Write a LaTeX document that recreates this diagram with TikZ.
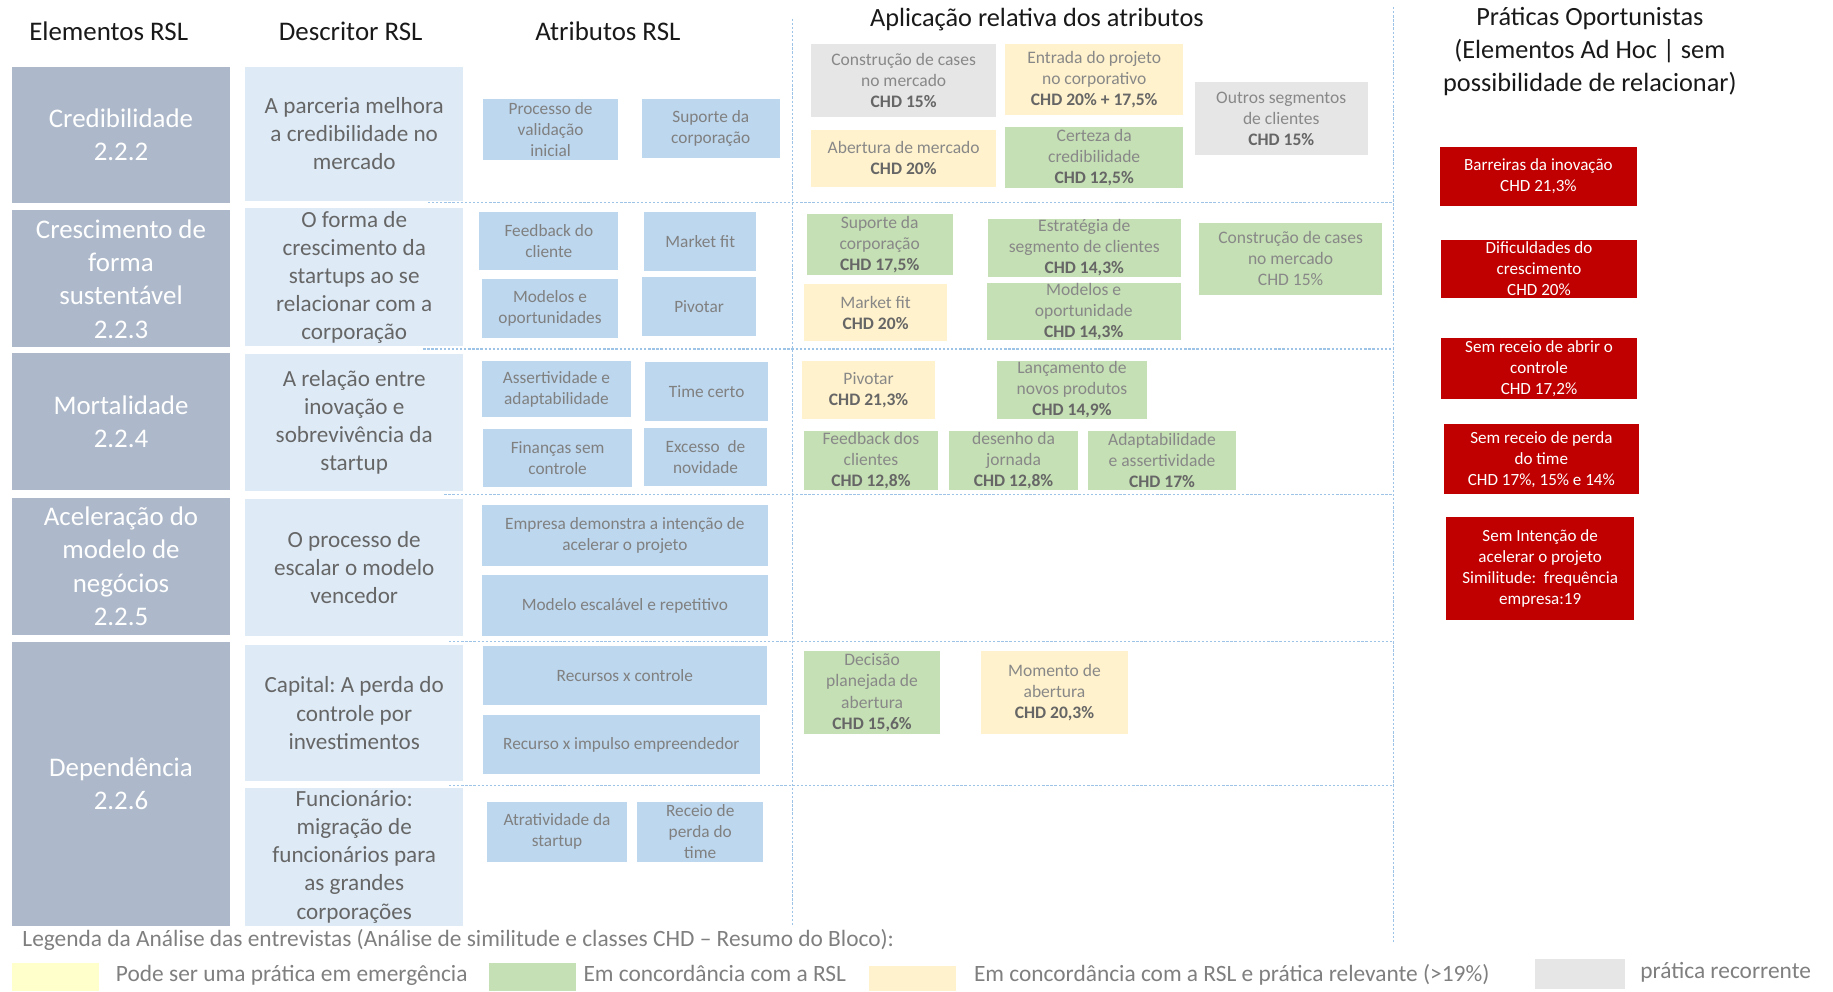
\documentclass[tikz,border=0pt]{standalone}
\usepackage{fontspec}
\setmainfont{Carlito}
\frenchspacing
\usetikzlibrary{positioning}
\definecolor{elemfill}{HTML}{ADB9CA}
\definecolor{descfill}{HTML}{DEEBF7}
\definecolor{atribfill}{HTML}{BDD7EE}
\definecolor{verdefill}{HTML}{C5E0B4}
\definecolor{amarfill}{HTML}{FFF2CC}
\definecolor{cinzafill}{HTML}{E6E6E6}
\definecolor{oportfill}{HTML}{C00000}
\definecolor{legamar}{HTML}{FFFFCC}
\definecolor{linha}{HTML}{9DC3E6}
\definecolor{desctxt}{HTML}{666666}
\definecolor{atribtxt}{HTML}{808080}
\definecolor{apltxt}{HTML}{888888}
\definecolor{chdtxt}{HTML}{666666}
\definecolor{legtxt}{HTML}{7F7F7F}
\tikzstyle{caixa} = [rectangle, inner sep=0pt, align=center]
\tikzstyle{elemento} = [caixa, fill=elemfill, text=white, font=\fontsize{23}{28.5}\selectfont]
\tikzstyle{descritor} = [caixa, fill=descfill, text=desctxt, font=\fontsize{19.8}{24}\selectfont]
\tikzstyle{atributo} = [caixa, fill=atribfill, text=atribtxt, font=\fontsize{14.8}{18}\selectfont]
\tikzstyle{aplic} = [caixa, text=apltxt, font=\fontsize{15}{18}\selectfont]
\tikzstyle{verde} = [aplic, fill=verdefill]
\tikzstyle{amarelo} = [aplic, fill=amarfill]
\tikzstyle{cinza} = [aplic, fill=cinzafill]
\tikzstyle{oport} = [caixa, fill=oportfill, text=white, font=\fontsize{14.6}{18}\selectfont]
\tikzstyle{titulo} = [align=center, inner sep=0pt, text=black!90, font=\fontsize{23}{28}\selectfont]
\tikzstyle{legenda} = [anchor=west, inner sep=0pt, text=legtxt, font=\fontsize{20}{24}\selectfont]
\tikzstyle{separador} = [draw=linha, line width=1.1pt, dash pattern=on 2pt off 1.5pt]
\tikzset{tam/.style 2 args={minimum width=#1pt, minimum height=#2pt}}
\newcommand{\chd}[1]{\textbf{\color{chdtxt}CHD #1}}

\begin{document}
\begin{tikzpicture}[x=1pt, y=-1pt]
                    \useasboundingbox (0,0) rectangle (1568,848);

                    \draw[separador] (366,173) -- (1192,173);
                    \draw[separador] (362,298.5) -- (1192,298.5);
                    \draw[separador] (380,423) -- (1192,423);
                    \draw[separador] (384,548.5) -- (1192,548.5);
                    \draw[separador] (384,672) -- (1192,672);
                    \draw[separador] (678,16) -- (678,791);
                    \draw[separador] (1192,6) -- (1192,806);

                    \node[titulo] (tElem) at (93,27) {Elementos RSL};
                    \node[titulo] (tDesc) at (300,27) {Descritor RSL};
                    \node[titulo] (tAtrib) at (520,27) {Atributos RSL};
                    \node[titulo, font=\fontsize{22.5}{28}\selectfont] (tAplic) at (887,17) {Aplicação relativa dos atributos};
                    \node[titulo, font=\fontsize{22.5}{28}\selectfont] (tOport) at (1360,44) {Práticas Oportunistas\\(Elementos Ad Hoc | sem\\possibilidade de relacionar)};

                    \node[elemento, tam={187}{117}] (credib) at (103.5,115.5) {Credibilidade\\2.2.2};
                    \node[elemento, tam={187}{117}] (cresc) at (103.5,238.5) {Crescimento de\\forma\\sustentável\\2.2.3};
                    \node[elemento, tam={187}{117}] (mortal) at (103.5,360.5) {Mortalidade\\2.2.4};
                    \node[elemento, tam={187}{117}] (acel) at (103.5,484.5) {Aceleração do\\modelo de\\negócios\\2.2.5};
                    \node[elemento, tam={187}{243}] (depend) at (103.5,670.5) {Dependência\\2.2.6};

                    \node[descritor, tam={186}{115}] (descCred) at (303,114.5) {A parceria melhora\\a credibilidade no\\mercado};
                    \node[descritor, tam={186}{118}] (descCresc) at (303,237) {O forma de\\crescimento da\\startups ao se\\relacionar com a\\corporação};
                    \node[descritor, tam={186}{117}] (descMort) at (303,361.5) {A relação entre\\inovação e\\sobrevivência da\\startup};
                    \node[descritor, tam={186}{117}] (descAcel) at (303,485.5) {O processo de\\escalar o modelo\\vencedor};
                    \node[descritor, tam={186}{116}] (descCap) at (303,610) {Capital: A perda do\\controle por\\investimentos};
                    \node[descritor, tam={186}{118}] (descFunc) at (303,733) {Funcionário:\\migração de\\funcionários para\\as grandes\\corporações};

                    \node[atributo, tam={116}{52}] (atValid) at (471,111) {Processo de\\validação\\inicial};
                    \node[atributo, tam={118}{50}] (atSuporte) at (608,110) {Suporte da\\corporação};
                    \node[atributo, tam={119}{50}] (atFeedback) at (469.5,206) {Feedback do\\cliente};
                    \node[atributo, tam={96}{51}] (atMarket) at (599,206.5) {Market fit};
                    \node[atributo, tam={117}{50}] (atModelos) at (470.5,264) {Modelos e\\oportunidades};
                    \node[atributo, tam={98}{50}] (atPivotar) at (598,262) {Pivotar};
                    \node[atributo, tam={128}{48}] (atAssert) at (476,333) {Assertividade e\\adaptabilidade};
                    \node[atributo, tam={105}{50}] (atTime) at (604.5,335) {Time certo};
                    \node[atributo, tam={128}{50}] (atFinancas) at (477,392) {Finanças sem\\controle};
                    \node[atributo, tam={105}{50}] (atExcesso) at (603.5,391) {Excesso\ \ de\\novidade};
                    \node[atributo, tam={245}{52}] (atEmpresa) at (534.5,458) {Empresa demonstra a intenção de\\acelerar o projeto};
                    \node[atributo, tam={245}{52}] (atEscala) at (534.5,518) {Modelo escalável e repetitivo};
                    \node[atributo, tam={243}{50}] (atRecursos) at (534.5,578) {Recursos x controle};
                    \node[atributo, tam={237}{50}] (atImpulso) at (531.5,637) {Recurso x impulso empreendedor};
                    \node[atributo, tam={119}{51}] (atAtrativ) at (476.5,711.5) {Atratividade da\\startup};
                    \node[atributo, tam={108}{51}] (atReceio) at (599,711.5) {Receio de\\perda do\\time};

                    \node[cinza, tam={158}{62}] (apCases) at (773,69) {Construção de cases\\no mercado\\\chd{15\%}};
                    \node[amarelo, tam={152}{60}] (apEntrada) at (936,68) {Entrada do projeto\\no corporativo\\\chd{20\% + 17,5\%}};
                    \node[cinza, tam={148}{63}] (apOutros) at (1096,101.5) {Outros segmentos\\de clientes\\\chd{15\%}};
                    \node[amarelo, tam={158}{49}] (apAbertura) at (773,135.5) {Abertura de mercado\\\chd{20\%}};
                    \node[verde, tam={152}{52}] (apCerteza) at (936,135) {Certeza da\\credibilidade\\\chd{12,5\%}};

                    \node[verde, tam={125}{52}] (apSuporte) at (752.5,209) {Suporte da\\corporação\\\chd{17,5\%}};
                    \node[verde, tam={165}{50}] (apEstrat) at (927.5,212) {Estratégia de\\segmento de clientes\\\chd{14,3\%}};
                    \node[verde, tam={156}{61}] (apCases2) at (1104,221.5) {Construção de cases\\no mercado\\CHD 15\%};
                    \node[amarelo, tam={122}{49}] (apMarket) at (749,267.5) {Market fit\\\chd{20\%}};
                    \node[verde, tam={166}{47}] (apModelos) at (927,266.5) {Modelos e\\oportunidade\\\chd{14,3\%}};

                    \node[amarelo, tam={114}{49}] (apPivotar) at (743,333.5) {Pivotar\\\chd{21,3\%}};
                    \node[verde, tam={128}{49}] (apLanc) at (917,333.5) {Lançamento de\\novos produtos\\\chd{14,9\%}};
                    \node[verde, tam={114}{50}] (apFeedback) at (745,394) {Feedback dos\\clientes\\\chd{12,8\%}};
                    \node[verde, tam={110}{50}] (apJornada) at (867,394) {desenho da\\jornada\\\chd{12,8\%}};
                    \node[verde, tam={126}{50}] (apAdapt) at (994,394) {Adaptabilidade\\e assertividade\\\chd{17\%}};

                    \node[verde, tam={116}{71}] (apDecisao) at (746,592.5) {Decisão\\planejada de\\abertura\\\chd{15,6\%}};
                    \node[amarelo, tam={126}{71}] (apMomento) at (902,592.5) {Momento de\\abertura\\\chd{20,3\%}};

                    \node[oport, tam={168}{50}] (opBarreiras) at (1316,151) {Barreiras da inovação\\CHD 21,3\%};
                    \node[oport, tam={167}{50}] (opDificuld) at (1316.5,230) {Dificuldades do\\crescimento\\CHD 20\%};
                    \node[oport, tam={167}{52}] (opControle) at (1316.5,315) {Sem receio de abrir o\\controle\\CHD 17,2\%};
                    \node[oport, tam={167}{60}] (opTime) at (1318.5,393) {Sem receio de perda\\do time\\CHD 17\%, 15\% e 14\%};
                    \node[oport, tam={161}{88}] (opIntencao) at (1317.5,486) {Sem Intenção de\\acelerar o projeto\\Similitude:\ \ frequência\\empresa:19};

                    \node[legenda] (legTitulo) at (19,804) {Legenda da Análise das entrevistas (Análise de similitude e classes CHD – Resumo do Bloco):};
                    \node[caixa, fill=legamar, tam={75}{24}] (legCx1) at (47.5,836) {};
                    \node[legenda] (legEmerg) at (99,834) {Pode ser uma prática em emergência};
                    \node[caixa, fill=verdefill, tam={75}{24}] (legCx2) at (455.5,836) {};
                    \node[legenda] (legConc) at (499,833) {Em concordância com a RSL};
                    \node[caixa, fill=amarfill, tam={75}{22}] (legCx3) at (780.5,837) {};
                    \node[legenda] (legRelev) at (833,834) {Em concordância com a RSL e prática relevante (>19\%)};
                    \node[caixa, fill=cinzafill, tam={77}{26}] (legCx4) at (1351.5,833) {};
                    \node[legenda] (legRecor) at (1403,832) {prática recorrente};
                \end{tikzpicture}
\end{document}
